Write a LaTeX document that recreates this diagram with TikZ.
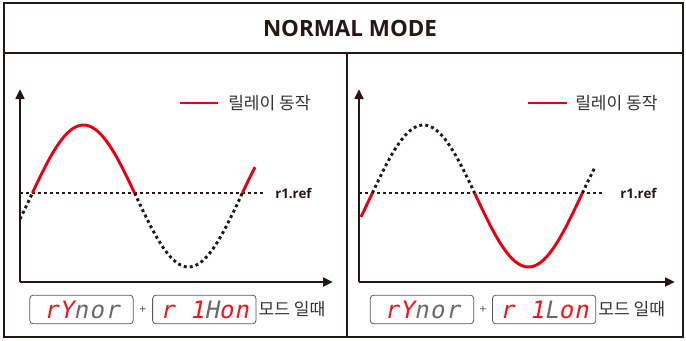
\documentclass[tikz,border=0pt]{standalone}
\usepackage{fontspec}
\setmainfont{Open Sans}
\newfontfamily\krfont{Noto Sans CJK KR}
\newfontfamily\segfont[FakeSlant=0.2,LetterSpace=5]{DejaVu Sans Mono}
\usetikzlibrary{arrows.meta,positioning,calc}
\definecolor{inkblack}{HTML}{231815}
\definecolor{relayred}{HTML}{E60012}
\definecolor{segred}{HTML}{F0141E}
\definecolor{seggray}{HTML}{6A6A6A}
\newcommand\lcdon[1]{\textcolor{segred}{#1}}
\newcommand\lcdoff[1]{\textcolor{seggray}{#1}}
\tikzset{
	frame/.style={draw=inkblack, line width=1.5pt},
	axis/.style={draw=inkblack, line width=2.2pt,
		-{Triangle[length=7.5pt,width=6.5pt]}},
	relay_on/.style={draw=relayred, line width=2.2pt},
	relay_off/.style={draw=inkblack, line width=2.2pt,
		dash pattern=on 2.2pt off 2.3pt},
	titletext/.style={font=\bfseries\fontsize{16.8}{18}\selectfont,
		text=inkblack, inner sep=0pt},
	reftext/.style={font=\bfseries\fontsize{10}{12}\selectfont,
		text=inkblack, inner sep=0pt, anchor=west},
	krtext/.style={font=\krfont\fontsize{12.8}{14}\selectfont,
		text=black!80, inner sep=0pt, anchor=west},
	lcdbox/.style={draw=black!65, line width=0.6pt, rounded corners=2.5pt,
		minimum width=77.5pt, minimum height=21.5pt, inner sep=0pt,
		font=\segfont\fontsize{18}{18}\selectfont},
	plussign/.style={font=\fontsize{9}{10}\selectfont, text=black!70,
		inner sep=0pt}
}

\begin{document}
\begin{tikzpicture}[x=0.75pt,y=-0.75pt]
\useasboundingbox (0,0) rectangle (686,340);
% frame
\draw[frame] (4,3) rectangle (683,337);
\draw[frame] (4,53) -- (683,53);
\draw[frame] (347,53) -- (347,337);
\node[titletext] (title) at (350,28) {NORMAL MODE};

% axes and reference level
\foreach \ox/\xe/\p in {20/333/L, 359/675/R} {
	\coordinate (o\p) at (\ox,282);
	\coordinate (y\p) at (\ox,89);
	\coordinate (x\p) at (\xe,282);
	\draw[axis] (o\p) -- (y\p);
	\draw[axis] (o\p) -- (x\p);
}
\coordinate (refL) at (20,193);
\coordinate (refR) at (359,193);
\node[reftext] (reflabL) at (275,193) {r1.ref};
\node[reftext] (reflabR) at (620,193) {r1.ref};
\draw[relay_off] (refL) -- (263,193);
\draw[relay_off] (refR) -- (605,193);

% waves
\foreach \a/\b/\s in {20/32.4/relay_off, 134.6/242.4/relay_off,
		32.4/134.6/relay_on, 242.4/255/relay_on}
	\draw[\s] plot[domain=\a:\b, samples=50, smooth]
		(\x,{196-71*sin(1.7142857*(\x-31))});
\foreach \a/\b/\s in {372.4/474.6/relay_off, 582.4/595/relay_off,
		361/372.4/relay_on, 474.6/582.4/relay_on}
	\draw[\s] plot[domain=\a:\b, samples=50, smooth]
		(\x,{196-71*sin(1.7142857*(\x-371))});

% legend
\node[krtext] (legL) at (228,103) {릴레이 동작};
\node[krtext] (legR) at (575,103) {릴레이 동작};
\draw[relay_on] ($(legL.west)+(-10,0)$) -- ++(-38,0);
\draw[relay_on] ($(legR.west)+(-8,0)$) -- ++(-39,0);

% display codes
\node[lcdbox] (ynorL) at (81.5,309.5) {\lcdon{rY}\lcdoff{nor}};
\node[lcdbox, right=14pt of ynorL] (honL) {\lcdon{r 1}\lcdoff{H}\lcdon{on}};
\node[plussign] (plusL) at ($(ynorL.east)!0.5!(honL.west)$) {+};
\node[krtext, right=1.5pt of honL] (modeL) {모드 일때};

\node[lcdbox] (ynorR) at (422,309.5) {\lcdon{rY}\lcdoff{nor}};
\node[lcdbox, right=13.5pt of ynorR] (lonR) {\lcdon{r 1}\lcdoff{L}\lcdon{on}};
\node[plussign] (plusR) at ($(ynorR.east)!0.5!(lonR.west)$) {+};
\node[krtext, right=1.5pt of lonR] (modeR) {모드 일때};
\end{tikzpicture}
\end{document}
